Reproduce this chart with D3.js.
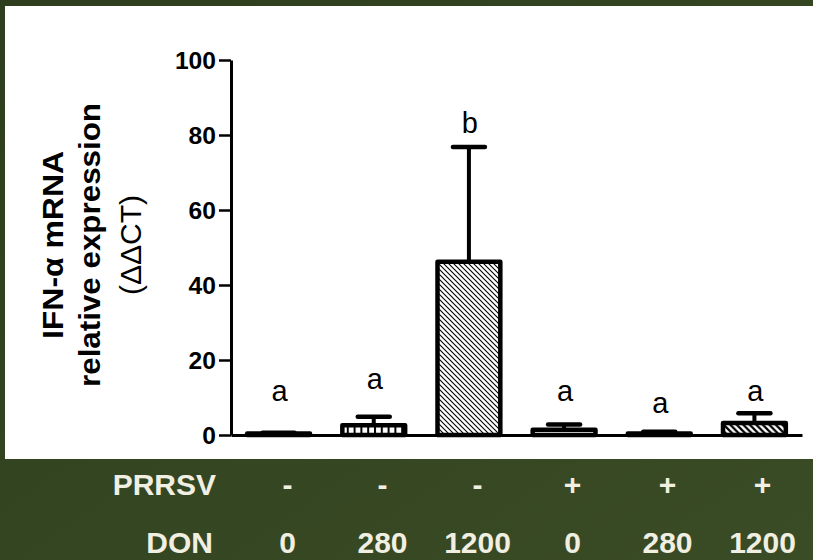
<!DOCTYPE html>
<html>
<head>
<meta charset="utf-8">
<script src="https://cdn.jsdelivr.net/npm/d3@7"></script>
<style>
  html, body { margin: 0; padding: 0; }
  body { width: 813px; height: 560px; overflow: hidden; }
  svg { display: block; }
</style>
</head>
<body>
<svg id="chart" width="813" height="560"></svg>
<script>
// ---------- data ----------
const groups = ["g1", "g2", "g3", "g4", "g5", "g6"];
const means = [0.4, 2.6, 46.2, 1.4, 0.4, 3.2];
const errorTops = [0.6, 4.9, 76.8, 2.8, 0.9, 5.8];
const letters = ["a", "a", "b", "a", "a", "a"];
const letterLevels = [9.1, 12.3, 80.5, 9.1, 5.9, 9.1];
const patterns = ["solid", "vlines", "hatchThin", "dots", "solid", "hatchThick"];
const yTicks = [0, 20, 40, 60, 80, 100];
const prrsv = ["-", "-", "-", "+", "+", "+"];
const don = ["0", "280", "1200", "0", "280", "1200"];
const titleLines = ["IFN-\u03B1 mRNA", "relative expression", "(\u0394\u0394CT)"];

// ---------- setup ----------
const svg = d3.select("#chart");
const defs = svg.append("defs");

const bg = defs.append("linearGradient").attr("id", "bg")
  .attr("x1", "0").attr("y1", "0").attr("x2", "1").attr("y2", "1");
bg.append("stop").attr("offset", "0%").attr("stop-color", "#2e3e1e");
bg.append("stop").attr("offset", "100%").attr("stop-color", "#3a4c25");
svg.append("rect").attr("width", 813).attr("height", 560).attr("fill", "url(#bg)");

// white panel
svg.append("rect").attr("x", 5).attr("y", 6).attr("width", 808).attr("height", 453).attr("fill", "#ffffff");

// patterns
const pv = defs.append("pattern").attr("id", "vlines").attr("patternUnits", "userSpaceOnUse")
  .attr("width", 6.8).attr("height", 10);
pv.append("rect").attr("width", 6.8).attr("height", 10).attr("fill", "#fff");
pv.append("rect").attr("x", 0).attr("width", 2).attr("height", 10).attr("fill", "#000");

function hatch(id, size, sw) {
  const p = defs.append("pattern").attr("id", id).attr("patternUnits", "userSpaceOnUse")
    .attr("width", size).attr("height", size);
  p.append("rect").attr("width", size).attr("height", size).attr("fill", "#fff");
  p.append("path").attr("d", `M0,0 L${size},${size} M${-size},0 L${size},${2*size} M0,${-size} L${2*size},${size}`)
    .attr("stroke", "#000").attr("stroke-width", sw);
}
hatch("hatchThin", 5, 1.1);
hatch("hatchThick", 6.5, 2.2);

const pd = defs.append("pattern").attr("id", "dots").attr("patternUnits", "userSpaceOnUse")
  .attr("width", 7.7).attr("height", 7.7).attr("y", 1);
pd.append("rect").attr("width", 7.7).attr("height", 7.7).attr("fill", "#fff");
pd.append("rect").attr("x", 2).attr("y", 5).attr("width", 3.5).attr("height", 1.8).attr("fill", "#000");

const fillFor = p => p === "solid" ? "#000" : `url(#${p})`;

// scales
const x = d3.scaleBand().domain(groups).range([231, 802]).paddingInner(0.34).paddingOuter(0.17);
const y = d3.scaleLinear().domain([0, 100]).range([435, 60]);
const xt = d3.scaleBand().domain(groups).range([240, 810]);

// bars
const barG = svg.append("g");
groups.forEach((g, i) => {
  const top = y(means[i]);
  barG.append("rect")
    .attr("x", x(g)).attr("y", top)
    .attr("width", x.bandwidth()).attr("height", y(0) - top)
    .attr("fill", fillFor(patterns[i]))
    .attr("stroke", "#000").attr("stroke-width", 4.5).attr("stroke-linejoin", "round");
  const cx = x(g) + x.bandwidth() / 2;
  barG.append("line").attr("x1", cx).attr("x2", cx).attr("y1", top).attr("y2", y(errorTops[i]))
    .attr("stroke", "#000").attr("stroke-width", 4);
  barG.append("line").attr("x1", cx - 16).attr("x2", cx + 16)
    .attr("y1", y(errorTops[i])).attr("y2", y(errorTops[i]))
    .attr("stroke", "#000").attr("stroke-width", 4.5).attr("stroke-linecap", "round");
  svg.append("text").attr("x", cx + 1).attr("y", y(letterLevels[i]))
    .attr("text-anchor", "middle")
    .attr("font-family", "Liberation Sans, Arial, sans-serif")
    .attr("font-size", 29).attr("fill", "#000").text(letters[i]);
});

// axes
const yAxis = d3.axisLeft(y).tickValues(yTicks).tickSizeInner(12).tickSizeOuter(0).tickPadding(3);
const yg = svg.append("g").attr("transform", "translate(231,0)").call(yAxis);
yg.select(".domain").attr("stroke", "#000").attr("stroke-width", 3);
yg.selectAll(".tick line").attr("stroke", "#000").attr("stroke-width", 2.5);
yg.selectAll(".tick text")
  .attr("font-family", "Liberation Sans, Arial, sans-serif")
  .attr("font-weight", "bold").attr("font-size", 24.5).attr("fill", "#000")
  .attr("dy", "0.36em").attr("textLength", function() { return this.textContent.length * 13.7; })
  .attr("lengthAdjust", "spacingAndGlyphs");

const xAxis = d3.axisBottom(x).tickSize(0).tickFormat(() => "").tickSizeOuter(0);
const xg = svg.append("g").attr("transform", "translate(0,435)").call(xAxis);
xg.select(".domain").attr("stroke", "#000").attr("stroke-width", 3);

// y title
const tg = svg.append("g").attr("transform", "translate(0,245) rotate(-90)");
const baselines = [63, 100, 141];
const lengths = [188, 284, 100];
const weights = ["bold", "bold", "normal"];
titleLines.forEach((t, i) => {
  tg.append("text").attr("x", 0).attr("y", baselines[i])
    .attr("text-anchor", "middle")
    .attr("font-family", "Liberation Sans, Arial, sans-serif")
    .attr("font-weight", weights[i]).attr("font-size", 29).attr("fill", "#000")
    .attr("textLength", lengths[i]).attr("lengthAdjust", "spacingAndGlyphs")
    .text(t);
});

// table under chart
const tf = "Liberation Sans, Arial, sans-serif";
const col = "#f0efe2";
svg.append("text").attr("x", 216).attr("y", 495).attr("text-anchor", "end")
  .attr("font-family", tf).attr("font-weight", "bold").attr("font-size", 30)
  .attr("fill", col).text("PRRSV");
svg.append("text").attr("x", 213).attr("y", 553).attr("text-anchor", "end")
  .attr("font-family", tf).attr("font-weight", "bold").attr("font-size", 30)
  .attr("fill", col).text("DON");
groups.forEach((g, i) => {
  const cx = xt(g) + xt.bandwidth() / 2;
  svg.append("text").attr("x", cx).attr("y", 495).attr("text-anchor", "middle")
    .attr("font-family", tf).attr("font-weight", "bold").attr("font-size", 30)
    .attr("fill", col).text(prrsv[i]);
  svg.append("text").attr("x", cx).attr("y", 553).attr("text-anchor", "middle")
    .attr("font-family", tf).attr("font-weight", "bold").attr("font-size", 30)
    .attr("fill", col).text(don[i]);
});
</script>
</body>
</html>
